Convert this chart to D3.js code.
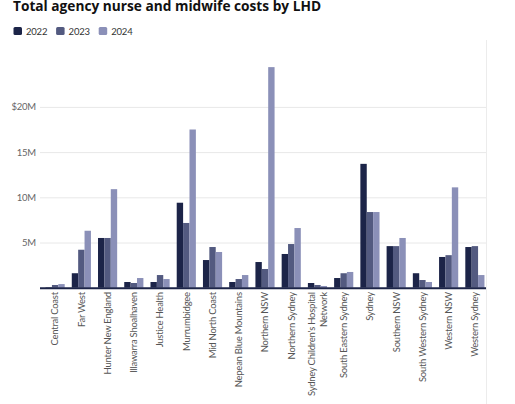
<!DOCTYPE html>
<html>
<head>
<meta charset="utf-8">
<script src="https://cdn.jsdelivr.net/npm/d3@7"></script>
<style>
  html, body { margin: 0; padding: 0; background: #fff; }
  svg { display: block; font-family: Lato, "Noto Sans", sans-serif; }
</style>
</head>
<body>
<svg id="chart" width="515" height="404"></svg>
<script>
const categories = [
  'Central Coast', 'Far West', 'Hunter New England', 'Illawarra Shoalhaven',
  'Justice Health', 'Murrumbidgee', 'Mid North Coast', 'Nepean Blue Mountains',
  'Northern NSW', 'Northern Sydney', "Sydney Children's Hospital Network",
  'South Eastern Sydney', 'Sydney', 'Southern NSW', 'South Western Sydney',
  'Western NSW', 'Western Sydney'
];
const years = ['2022', '2023', '2024'];
// values in $M
const v2022 = [0.05, 1.6, 5.5, 0.63, 0.63, 9.4, 3.06, 0.63, 2.84, 3.73, 0.52, 1.07, 13.7, 4.6, 1.6, 3.4, 4.5];
const v2023 = [0.3, 4.2, 5.5, 0.52, 1.4, 7.16, 4.5, 0.96, 2.07, 4.83, 0.3, 1.6, 8.37, 4.6, 0.85, 3.6, 4.6];
const v2024 = [0.4, 6.3, 10.9, 1.07, 0.96, 17.5, 3.95, 1.4, 24.4, 6.6, 0.19, 1.74, 8.37, 5.5, 0.63, 11.1, 1.4];
const yTicks = [5, 10, 15, 20];
const colors = ['#1c2448', '#535a80', '#8b90b8'];

const series = [v2022, v2023, v2024];
const svg = d3.select('#chart');

const x0 = d3.scaleBand().domain(categories).range([42, 488]).paddingInner(0.27).paddingOuter(0.135);
const x1 = d3.scaleBand().domain(years).range([0, x0.bandwidth()]);
const y = d3.scaleLinear().domain([0, 25]).range([287.7, 61.7]);
const color = d3.scaleOrdinal().domain(years).range(colors);

// right border
svg.append('line')
  .attr('x1', 486.5).attr('x2', 486.5).attr('y1', 40).attr('y2', 404)
  .attr('stroke', '#ececec');

// title
svg.append('text')
  .attr('x', 13).attr('y', 11)
  .attr('font-family', '"Open Sans", Lato, sans-serif')
  .attr('font-size', 13.7).attr('font-weight', 700).attr('fill', '#111')
  .text('Total agency nurse and midwife costs by LHD');

// legend
const leg = svg.append('g').attr('transform', 'translate(13.5,27)');
years.forEach((yr, i) => {
  const g = leg.append('g').attr('transform', `translate(${i * 42.6},0)`);
  g.append('rect').attr('width', 8.5).attr('height', 8).attr('rx', 1.5).attr('fill', color(yr));
  g.append('text').attr('x', 12.5).attr('y', 7.8).attr('font-size', 9.5)
    .attr('letter-spacing', -0.2).attr('fill', '#333').text(yr);
});

// grid + y axis
const yAxis = d3.axisLeft(y).tickValues(yTicks).tickSize(-(486 - 40))
  .tickFormat((d) => (d === 20 ? '$' : '') + d + 'M');
const ya = svg.append('g').attr('transform', 'translate(40,0)').call(yAxis);
ya.select('.domain').remove();
ya.selectAll('.tick line').attr('stroke', '#e8e8e8');
ya.selectAll('.tick text').attr('x', -4).attr('fill', '#666').attr('font-size', 9.5)
  .attr('letter-spacing', -0.2)
  .attr('font-family', 'Lato, "Noto Sans", sans-serif');

// bars
const groups = svg.append('g').selectAll('g')
  .data(categories)
  .join('g')
  .attr('transform', (d) => `translate(${x0(d)},0)`);

groups.selectAll('rect')
  .data((d, i) => years.map((yr, k) => ({ yr, v: series[k][i] })))
  .join('rect')
  .attr('x', (d) => x1(d.yr))
  .attr('width', x1.bandwidth())
  .attr('y', (d) => y(d.v))
  .attr('height', (d) => y(0) - y(d.v))
  .attr('fill', (d) => color(d.yr));

// baseline
svg.append('line')
  .attr('x1', 40).attr('x2', 486).attr('y1', y(0) + 0.5).attr('y2', y(0) + 0.5)
  .attr('stroke', '#1c2448').attr('stroke-width', 2);

// x labels
const xa = svg.append('g').attr('transform', `translate(0,${y(0) + 4.5})`);
categories.forEach((c) => {
  const cx = x0(c) + x0.bandwidth() / 2;
  const lines = c === "Sydney Children's Hospital Network" ? ["Sydney Children's Hospital", 'Network'] : [c];
  const t = xa.append('text')
    .attr('transform', `translate(${cx},0) rotate(-90)`)
    .attr('text-anchor', 'end')
    .attr('font-size', 9.5)
    .attr('letter-spacing', -0.25)
    .attr('fill', '#555');
  lines.forEach((ln, i) => {
    t.append('tspan')
      .attr('x', 0)
      .attr('y', (i - (lines.length - 1) / 2) * 12)
      .attr('dy', '0.35em')
      .text(ln);
  });
});
</script>
</body>
</html>
